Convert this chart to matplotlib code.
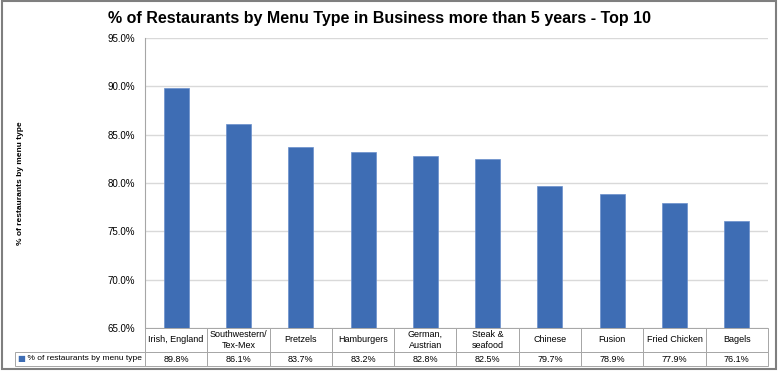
import matplotlib
matplotlib.use("Agg")
import matplotlib.pyplot as plt
from matplotlib.patches import Rectangle

plt.rcParams['font.family'] = ['Liberation Sans Narrow', 'Liberation Sans', 'DejaVu Sans']

# data
menu_types = ["Irish, England", "Southwestern/\nTex-Mex", "Pretzels", "Hamburgers",
              "German,\nAustrian", "Steak &\nseafood", "Chinese", "Fusion",
              "Fried Chicken", "Bagels"]
pct = [89.8, 86.1, 83.7, 83.2, 82.8, 82.5, 79.7, 78.9, 77.9, 76.1]
series_name = "% of restaurants by menu type"
y_ticks = [65, 70, 75, 80, 85, 90, 95]

bar_color = "#3E6DB4"
grid_color = "#D9D9D9"
cell_edge = "#A6A6A6"

fig = plt.figure(figsize=(7.8, 3.72), dpi=100)
W, H = 780, 372
ax_w = 768 - 145
ax_h = 328 - 38
ax = fig.add_axes([145 / W, 1 - 328 / H, ax_w / W, ax_h / H])

x = list(range(len(pct)))
ax.bar(x, pct, width=0.4, color=bar_color, edgecolor="#6A8FCB", linewidth=0.5, zorder=3)
ax.set_xlim(-0.5, len(pct) - 0.5)
ax.set_ylim(65, 95)
ax.set_yticks(y_ticks)
ax.set_yticklabels([f"{t:.1f}%" for t in y_ticks], fontsize=7)
ax.tick_params(axis="y", length=0, pad=7)
ax.set_xticks([])
ax.grid(axis="y", color=grid_color, linewidth=1, zorder=0)
for s in ["top", "right", "bottom"]:
    ax.spines[s].set_visible(False)
ax.spines["left"].set_color(cell_edge)
ax.spines["left"].set_linewidth(0.8)

ax.set_ylabel("% of restaurants by menu type", fontsize=6, fontweight="bold", labelpad=0)
ax.yaxis.set_label_coords(-0.195, 0.5)

fig.text(0.487, 1 - 18 / H, "% of Restaurants by Menu Type in Business more than 5 years - Top 10",
         ha="center", va="center", fontsize=11.5, fontweight="bold")

# data table under the axis (row label column sits left of the bbox)
label_w = (145 - 15) / ax_w
tbl_h = (366 - 328) / ax_h
tbl = ax.table(cellText=[[f"{v:.1f}%" for v in pct]],
               rowLabels=["    " + series_name],
               colLabels=menu_types,
               colWidths=[1 / len(pct)] * len(pct),
               cellLoc="center", rowLoc="left",
               bbox=[0, -tbl_h, 1, tbl_h])
tbl._autoColumns = []
tbl.auto_set_font_size(False)
tbl.set_fontsize(6.5)
for (r, c), cell in tbl.get_celld().items():
    cell.set_edgecolor(cell_edge)
    cell.set_linewidth(0.7)
    cell.set_width(label_w if c == -1 else 1 / len(pct))
    cell.set_height(24 if r == 0 else 14)
    cell.PAD = 0.02
    if c == -1:
        cell.get_text().set_fontsize(6)

# legend key in the row label cell
ax.text((21 - 145) / ax_w, -(359 - 328) / ax_h, "■", transform=ax.transAxes,
        color=bar_color, fontsize=6, ha="center", va="center", family="DejaVu Sans")

# outer chart border
fig.patches.append(Rectangle((2 / W, 1 - 369 / H), 774 / W, 368 / H, transform=fig.transFigure,
                             fill=False, edgecolor="#7F7F7F", linewidth=1.5))

fig.savefig("out.png", dpi=100)
